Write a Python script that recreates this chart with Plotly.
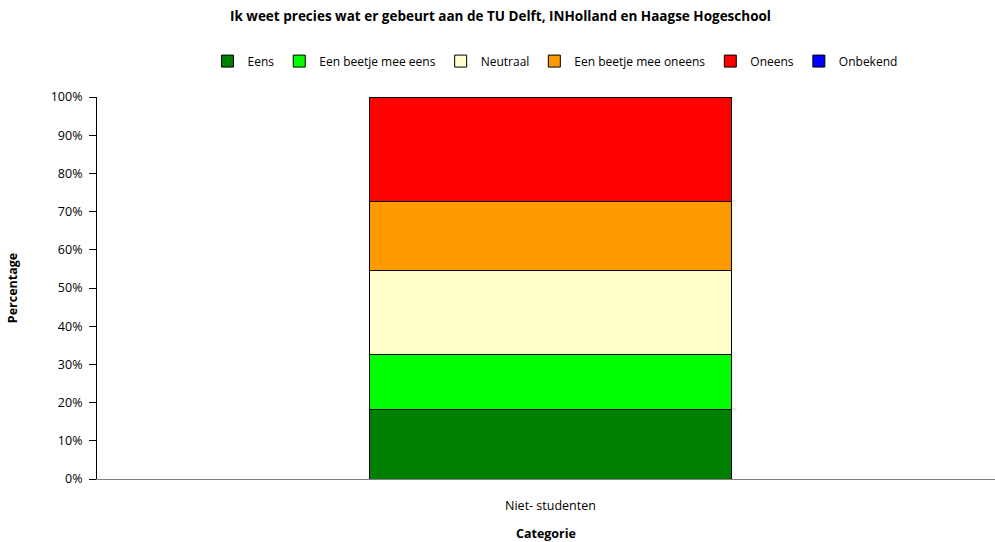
import plotly.graph_objects as go

categories = ["Niet- studenten"]
series_names = ["Eens", "Een beetje mee eens", "Neutraal", "Een beetje mee oneens", "Oneens", "Onbekend"]
eens = [18.2]
beetje_eens = [14.5]
neutraal = [21.8]
beetje_oneens = [18.2]
oneens = [27.3]
onbekend = [0.0]
colors = ["#008000", "#00ff00", "#ffffcc", "#ff9900", "#ff0000", "#0000ff"]
y_ticks = [0, 10, 20, 30, 40, 50, 60, 70, 80, 90, 100]

font = "Open Sans, Liberation Sans, sans-serif"

fig = go.Figure()
for name, vals, col in zip(series_names, [eens, beetje_eens, neutraal, beetje_oneens, oneens, onbekend], colors):
    fig.add_trace(go.Bar(x=categories, y=vals, name=name,
                         marker=dict(color=col, line=dict(color="#000000", width=1))))

fig.update_layout(
    width=995, height=542,
    barmode="stack", bargap=0.596,
    plot_bgcolor="white", paper_bgcolor="white",
    margin=dict(l=97, r=0, t=97, b=63, autoexpand=False),
    font=dict(family=font, size=12, color="#000000"),
    title=dict(text="<b>Ik weet precies wat er gebeurt aan de TU Delft, INHolland en Haagse Hogeschool</b>",
               x=0.503, xref="container", xanchor="center", y=0.97, yanchor="middle",
               automargin=False, font=dict(size=13.5)),
    legend=dict(orientation="h", x=0.51, xanchor="center", y=1.094, yanchor="middle",
                traceorder="normal", font=dict(size=12), itemwidth=30),
    showlegend=True,
)
fig.update_yaxes(range=[0, 100], tickvals=y_ticks, ticktext=[f"{v}%" for v in y_ticks],
                 showgrid=False, showline=True, linecolor="#000000", linewidth=1,
                 ticks="outside", ticklen=7, tickcolor="#000000", zeroline=False,
                 automargin=False, ticklabelstandoff=4, tickfont=dict(size=12.5),
                 title=dict(text="<b>Percentage</b>", standoff=30, font=dict(size=12.5)))
fig.update_xaxes(range=[-0.505, 0.495], showgrid=False, showline=True, linecolor="#808080", linewidth=1,
                 ticks="", automargin=False, ticklabelstandoff=15, tickfont=dict(size=12.5),
                 title=dict(text="<b>Categorie</b>", standoff=18, font=dict(size=12.5)))

fig.write_html("out.html", config={"displayModeBar": False},
               post_script="document.body.style.margin='0';document.body.style.overflow='hidden';")
